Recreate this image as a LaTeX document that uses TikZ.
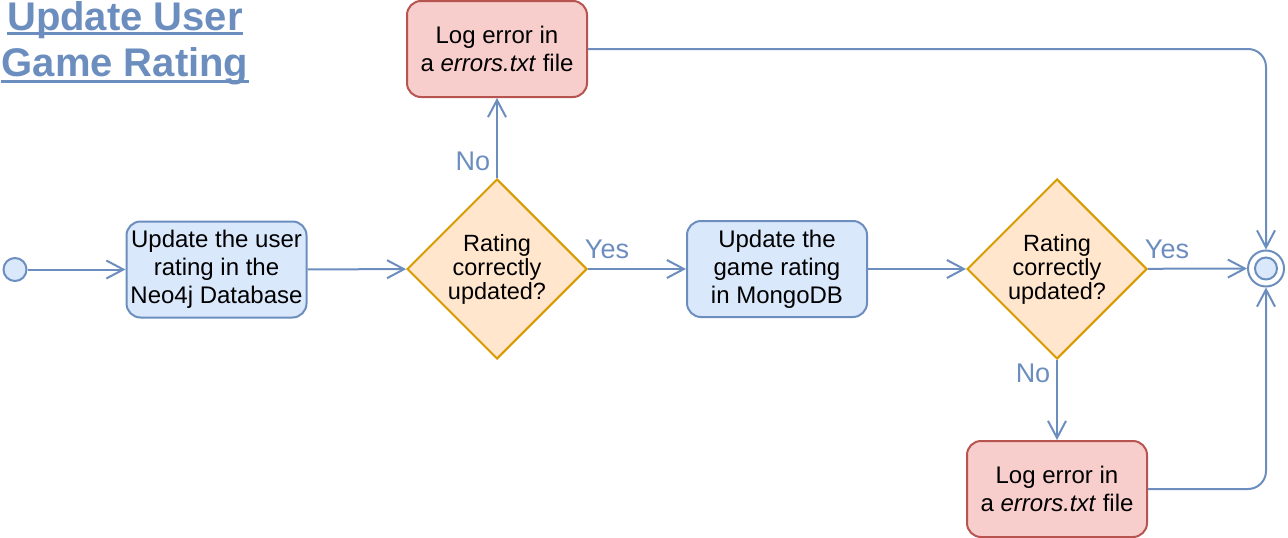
\documentclass[tikz,border=0pt]{standalone}
\usepackage{fontspec}
\setmainfont{Liberation Sans}
\usetikzlibrary{shapes.geometric,arrows.meta}
\definecolor{bstroke}{HTML}{6C8EBF}
\definecolor{bfill}{HTML}{DAE8FC}
\definecolor{ostroke}{HTML}{D79B00}
\definecolor{ofill}{HTML}{FFE6CC}
\definecolor{rstroke}{HTML}{B85450}
\definecolor{rfill}{HTML}{F8CECC}
\begin{document}
\begin{tikzpicture}[x=1pt,y=-1pt,
  txt/.style={font=\fontsize{24}{28}\selectfont, align=center, text=black},
  proc/.style={txt, draw=bstroke, fill=bfill, line width=2pt, rounded corners=14pt, minimum width=180pt, minimum height=96pt, inner sep=0pt},
  err/.style={proc, draw=rstroke, fill=rfill},
  dec/.style={diamond, aspect=1, draw=ostroke, fill=ofill, line width=2pt, minimum width=180pt, minimum height=180pt, inner sep=0pt, align=center, text=black, font=\fontsize{23.5}{24}\selectfont},
  arr/.style={draw=bstroke, line width=2pt, -{Straight Barb[length=17pt,width=18pt]}},
  lbl/.style={text=bstroke, font=\fontsize{27}{30}\selectfont, inner sep=0pt},
  ttl/.style={text=bstroke, font=\fontsize{40}{46}\selectfont\bfseries, inner sep=0pt, anchor=base},
  uline/.style={draw=bstroke, line width=3pt},
]
\path[use as bounding box] (0,0) rectangle (1288,538);

% title
\node[ttl] (t1) at (125,30.5) {Update User};
\node[ttl] (t2) at (125,76) {Game Rating};
\draw[uline] ([yshift=-2.5pt]t1.base west) -- ([yshift=-2.5pt]t1.base east);
\draw[uline] ([yshift=-5pt]t2.base west) -- ([yshift=-5pt]t2.base east);

% nodes
\node[circle, draw=bstroke, fill=bfill, line width=2pt, minimum size=23pt, inner sep=0pt] (start) at (15,269.5) {};
\node[proc] (b1) at (216.5,269.5) {Update the user\\rating in the\\Neo4j Database};
\node[dec] (d1) at (497,269) {Rating\\correctly\\updated?};
\node[err] (e1) at (497,49) {Log error in\\a \textit{errors.txt} file};
\node[proc] (b2) at (777,269) {Update the\\game rating\\in MongoDB};
\node[dec] (d2) at (1057,269) {Rating\\correctly\\updated?};
\node[err] (e2) at (1057,489) {Log error in\\a \textit{errors.txt} file};
\node[circle, draw=bstroke, line width=2pt, minimum size=36pt, inner sep=0pt] (end) at (1266,268.5) {};
\node[circle, draw=bstroke, fill=bfill, line width=2pt, minimum size=22pt, inner sep=0pt] (endc) at (end.center) {};

% connectors
\draw[arr] (start) -- (b1);
\draw[arr] (b1) -- (d1);
\draw[arr] (d1) -- (e1);
\draw[arr] (d1) -- (b2);
\draw[arr] (b2) -- (d2);
\draw[arr] (d2) -- (end);
\draw[arr] (d2) -- (e2);
\draw[arr, rounded corners=18pt] (e1.east) -| (end.north);
\draw[arr, rounded corners=18pt] (e2.east) -| (end.south);

% labels
\node[lbl] (l1) at (473,161) {No};
\node[lbl] (l2) at (607,249) {Yes};
\node[lbl] (l3) at (1167,249) {Yes};
\node[lbl] (l4) at (1033,373) {No};
\end{tikzpicture}
\end{document}
